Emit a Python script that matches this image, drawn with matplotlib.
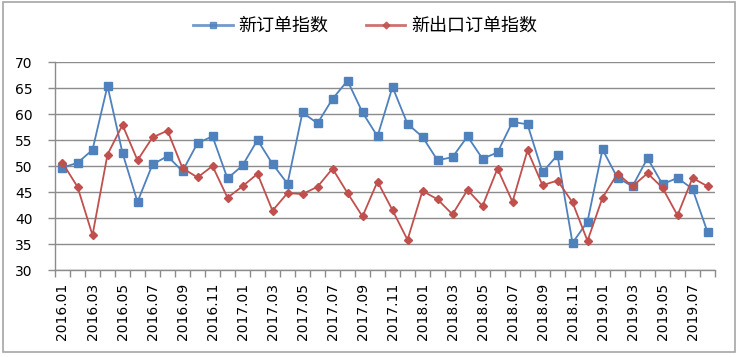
import matplotlib
matplotlib.use("Agg")
import matplotlib.pyplot as plt
from matplotlib.patches import Rectangle
from matplotlib.lines import Line2D

months = [
    "2016.01", "2016.02", "2016.03", "2016.04", "2016.05", "2016.06",
    "2016.07", "2016.08", "2016.09", "2016.10", "2016.11", "2016.12",
    "2017.01", "2017.02", "2017.03", "2017.04", "2017.05", "2017.06",
    "2017.07", "2017.08", "2017.09", "2017.10", "2017.11", "2017.12",
    "2018.01", "2018.02", "2018.03", "2018.04", "2018.05", "2018.06",
    "2018.07", "2018.08", "2018.09", "2018.10", "2018.11", "2018.12",
    "2019.01", "2019.02", "2019.03", "2019.04", "2019.05", "2019.06",
    "2019.07", "2019.08",
]

new_orders = [
    49.7, 50.6, 53.1, 65.4, 52.5, 43.1, 50.3, 51.9, 49.0, 54.4, 55.7, 47.6,
    50.1, 55.0, 50.4, 46.6, 60.3, 58.2, 62.9, 66.4, 60.3, 55.7, 65.2, 58.1,
    55.6, 51.1, 51.7, 55.7, 51.4, 52.6, 58.5, 58.0, 48.8, 52.1, 35.2, 39.3,
    53.2, 47.7, 46.1, 51.5, 46.5, 47.7, 45.6, 37.3,
]

new_export_orders = [
    50.6, 46.0, 36.7, 52.2, 57.9, 51.1, 55.5, 56.8, 49.6, 47.8, 50.0, 43.9,
    46.1, 48.5, 41.4, 44.8, 44.6, 46.0, 49.5, 44.8, 40.3, 47.0, 41.5, 35.8,
    45.2, 43.6, 40.7, 45.4, 42.3, 49.5, 43.1, 53.0, 46.3, 47.2, 43.0, 35.6,
    43.9, 48.5, 46.1, 48.6, 45.8, 40.5, 47.7, 46.1,
]

series_names = ["新订单指数", "新出口订单指数"]
y_ticks = [30, 35, 40, 45, 50, 55, 60, 65, 70]

blue = "#4F81BD"
red = "#C0504D"
grid_gray = "#8C8C8C"

W, H = 739, 357
fig = plt.figure(figsize=(W / 100, H / 100), dpi=100)
fig.patch.set_facecolor("white")

# outer chart border
fig.patches.append(Rectangle((3 / W, 5 / H), 732 / W, 350 / H,
                             transform=fig.transFigure, fill=False,
                             edgecolor="#A6A6A6", linewidth=1.2))

left, right, top, bottom = 55, 715, 62, 270
ax = fig.add_axes([left / W, (H - bottom) / H, (right - left) / W, (bottom - top) / H])

x = list(range(len(months)))
ax.plot(x, new_orders, color=blue, linewidth=1.3, marker="s", markersize=5.5,
        markerfacecolor=blue, markeredgecolor=blue, zorder=3)
ax.plot(x, new_export_orders, color=red, linewidth=1.3, marker="D", markersize=3.8,
        markerfacecolor=red, markeredgecolor=red, zorder=3)

ax.set_xlim(-0.5, len(months) - 0.5)
ax.set_ylim(30, 70)
ax.set_yticks(y_ticks)
ax.set_yticklabels([str(v) for v in y_ticks], fontsize=10, family="DejaVu Sans")
ax.yaxis.grid(True, color=grid_gray, linewidth=1.0)
ax.set_axisbelow(True)

# category labels (every other month) and boundary tick marks
label_pos = x[::2]
ax.set_xticks(label_pos)
ax.set_xticklabels([months[i] for i in label_pos], rotation=90, fontsize=10,
                   family="DejaVu Sans", va="top")
ax.set_xticks([i - 0.5 for i in range(len(months) + 1)], minor=True)
ax.tick_params(axis="x", which="major", length=0, pad=9)
ax.tick_params(axis="x", which="minor", length=5, width=1, color=grid_gray, direction="out")
ax.tick_params(axis="y", which="major", length=5, width=1, color=grid_gray, direction="out", pad=11)

for s in ["top", "right"]:
    ax.spines[s].set_visible(False)
for s in ["left", "bottom"]:
    ax.spines[s].set_color(grid_gray)
    ax.spines[s].set_linewidth(1.0)

handles = [
    Line2D([], [], color=blue, linewidth=2, marker="s", markersize=5, alpha=0.8),
    Line2D([], [], color=red, linewidth=2, marker="D", markersize=3.5, alpha=0.8),
]
fig.legend(handles, series_names, loc="center left", bbox_to_anchor=(193 / W, (H - 26) / H),
           ncol=2, frameon=False, borderpad=0, borderaxespad=0,
           prop={"family": ["Noto Sans CJK SC", "DejaVu Sans"], "size": 13},
           handlelength=2.2, handletextpad=0.33, columnspacing=2.05)

fig.savefig("out.png", dpi=100, facecolor="white")
